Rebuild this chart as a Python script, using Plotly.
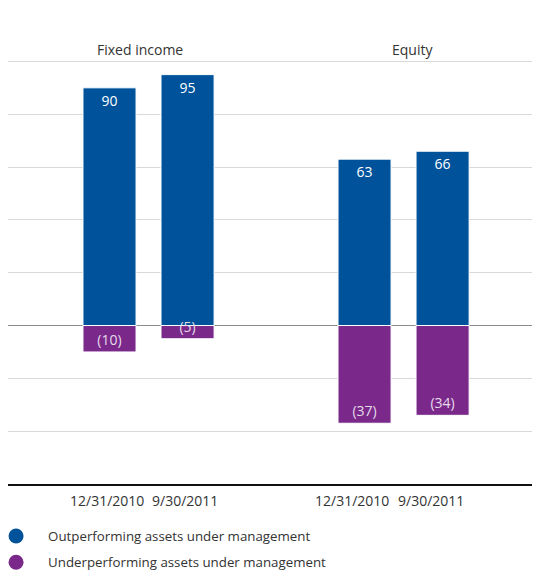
import plotly.graph_objects as go

# asset classes and reporting dates
categories = ["Fixed income", "Equity"]
dates = ["12/31/2010", "9/30/2011"]

# assets under management, by date (one value per asset class)
outperforming = {"12/31/2010": [90, 63], "9/30/2011": [95, 66]}
underperforming = {"12/31/2010": [-10, -37], "9/30/2011": [-5, -34]}

series_names = ["Outperforming assets under management",
                "Underperforming assets under management"]

BLUE = "#00539b"
PURPLE = "#7a298b"
FONT = "Open Sans"

fig = go.Figure()

for d in dates:
    fig.add_trace(go.Bar(
        x=categories, y=outperforming[d], offsetgroup=d,
        marker=dict(color=BLUE, line=dict(color="white", width=1)),
        text=[str(v) for v in outperforming[d]],
        textposition="inside", insidetextanchor="end", constraintext="none",
        textangle=0,
        textfont=dict(family=FONT, size=14, color="white"),
        showlegend=False, hoverinfo="skip"))
    fig.add_trace(go.Bar(
        x=categories, y=underperforming[d], offsetgroup=d,
        marker=dict(color=PURPLE, line=dict(color="white", width=1)),
        text=["({})".format(-v) for v in underperforming[d]],
        textposition="inside", insidetextanchor="end", constraintext="none",
        textangle=0,
        textfont=dict(family=FONT, size=14, color="#e6dbe9"),
        showlegend=False, hoverinfo="skip"))

# legend entries with round markers
for name, col in zip(series_names, [BLUE, PURPLE]):
    fig.add_trace(go.Scatter(x=[None], y=[None], mode="markers", name=name,
                             legendgroup=name,
                             marker=dict(color=col, size=15, symbol="circle")))

# group labels on top, date labels under each bar
ann = []
for cat, shift in zip(categories, [-9, 9]):
    ann.append(dict(x=cat, xref="x", y=0.967, yref="paper", text=cat,
                    showarrow=False, xshift=shift, yanchor="middle",
                    font=dict(family=FONT, size=14, color="#333333")))
date_shifts = {"Fixed income": [-42, 36], "Equity": [-52, 27]}
for cat in categories:
    for d, shift in zip(dates, date_shifts[cat]):
        ann.append(dict(x=cat, xref="x", y=-0.036, yref="paper", text=d,
                        showarrow=False, xshift=shift, yanchor="middle",
                        font=dict(family=FONT, size=14, color="#333333")))

# page body has an 8px margin, so the figure is a bit smaller than the window
fig.update_layout(
    width=532, height=571,
    margin=dict(l=0, r=0, t=27, b=95, autoexpand=False),
    paper_bgcolor="white", plot_bgcolor="white",
    barmode="group", bargap=0.388, bargroupgap=0.32,
    font=dict(family=FONT, size=14, color="#333333"),
    annotations=ann,
    legend=dict(x=-0.045, xanchor="left", y=-0.082, yanchor="top",
                itemwidth=54, tracegroupgap=6,
                font=dict(family=FONT, size=13.3, color="#333333")),
    xaxis=dict(range=[-0.551, 1.535], showticklabels=False, ticks="",
               showgrid=False, showline=True, linecolor="#111111", linewidth=1.5,
               fixedrange=True),
    yaxis=dict(range=[-60, 110], dtick=20, showticklabels=False, ticks="",
               showgrid=True, gridcolor="#d9d9d9", gridwidth=1,
               zeroline=True, zerolinecolor="#8c8c8c", zerolinewidth=1,
               fixedrange=True),
)

fig.write_html("out.html")
